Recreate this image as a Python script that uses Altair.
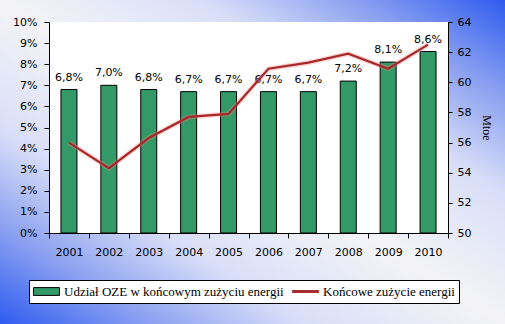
import altair as alt
import pandas as pd

years = ["2001", "2002", "2003", "2004", "2005", "2006", "2007", "2008", "2009", "2010"]
share_pct = [6.8, 7.0, 6.8, 6.7, 6.7, 6.7, 6.7, 7.2, 8.1, 8.6]
consumption_mtoe = [56.0, 54.3, 56.3, 57.7, 57.9, 60.9, 61.3, 61.9, 60.9, 62.5]
series_names = ["Udział OZE w końcowym zużyciu energii", "Końcowe zużycie energii"]
pct_ticks = [0, 1, 2, 3, 4, 5, 6, 7, 8, 9, 10]
mtoe_ticks = [50, 52, 54, 56, 58, 60, 62, 64]

GREEN = "#339966"
RED = "#a8282a"
W, H = 399, 211
PAD = {"left": 49, "top": 22, "right": 57, "bottom": 91}

df = pd.DataFrame({
    "year": years,
    "share": share_pct,
    "mtoe": consumption_mtoe,
    "label": [f"{v:.1f}%".replace(".", ",") for v in share_pct],
})
legend_df = pd.DataFrame({"series": series_names})

font = "DejaVu Sans"
serif = "Liberation Serif"

xenc = alt.X("year:N", sort=years, title=None,
             scale=alt.Scale(paddingInner=0, paddingOuter=0),
             axis=alt.Axis(tickBand="extent", labelAngle=0, labelFont=font, labelFontSize=11,
                           labelColor="black", domainColor="black", tickColor="black",
                           tickSize=5, labelPadding=8, zindex=1))

gradient = {
    "gradient": "linear", "x1": 0, "y1": 1, "x2": 1, "y2": 0,
    "stops": [
        {"offset": 0.0, "color": "#2f5cf0"},
        {"offset": 0.15, "color": "#8aa0f0"},
        {"offset": 0.3, "color": "#d8def8"},
        {"offset": 0.5, "color": "#f4f4f6"},
        {"offset": 0.7, "color": "#d8def8"},
        {"offset": 0.85, "color": "#8aa0f0"},
        {"offset": 1.0, "color": "#2f5cf0"},
    ],
}

bg = alt.Chart(legend_df).mark_rect(fill=gradient, clip=False).encode(
    x=alt.value(-PAD["left"]), x2=alt.value(W + PAD["right"]),
    y=alt.value(-PAD["top"]), y2=alt.value(H + PAD["bottom"]))
plotbg = alt.Chart(legend_df).mark_rect(fill="white").encode(
    x=alt.value(0), x2=alt.value(W), y=alt.value(0), y2=alt.value(H))

yleft = alt.Y("share:Q", title=None,
              scale=alt.Scale(domain=[0, 10], nice=False),
              axis=alt.Axis(values=pct_ticks, labelExpr="datum.value + '%'", grid=False,
                            labelFont=font, labelFontSize=11, labelColor="black",
                            domainColor="black", tickColor="black", tickSize=5,
                            labelPadding=7, orient="left", zindex=1))

bars = alt.Chart(df).mark_bar(width=16, color=GREEN, stroke="black", strokeWidth=1).encode(
    x=xenc, y=yleft)
labels = alt.Chart(df).mark_text(dy=-9, baseline="alphabetic", font=font, fontSize=11,
                                  color="black").encode(x=xenc, y=yleft, text="label:N")
left = alt.layer(bars, labels)

yright = alt.Y("mtoe:Q",
               scale=alt.Scale(domain=[50, 64], nice=False),
               axis=alt.Axis(values=mtoe_ticks, title="Mtoe", grid=False, orient="right",
                             labelFont=font, labelFontSize=11, labelColor="black",
                             titleFont=serif, titleFontSize=12,
                             titleFontWeight="normal", titleColor="black",
                             domainColor="black", tickColor="black", tickSize=4,
                             labelPadding=5, titlePadding=9, zindex=1))
glow = alt.Chart(df).mark_line(color="#f08a8a", strokeWidth=5, opacity=0.35).encode(
    x=xenc, y=yright)
line = alt.Chart(df).mark_line(color=RED, strokeWidth=2.2).encode(x=xenc, y=yright)
right = alt.layer(glow, line)

leg = alt.Legend(title=None, orient="none", legendX=-20, legendY=258, direction="horizontal",
                 fillColor="white", strokeColor="black", padding=4, clipHeight=15,
                 labelFont=serif, labelFontSize=13, labelColor="black",
                 symbolSize=676, symbolStrokeWidth=1, symbolOpacity=1,
                 columnPadding=8, labelOffset=4, labelLimit=400)
bar_sym = "M-1,-0.3L1,-0.3L1,0.3L-1,0.3Z"
line_sym = "M-1,-0.07L1,-0.07L1,0.07L-1,0.07Z"
legend_layer = alt.Chart(legend_df).mark_point(filled=True, opacity=0).encode(
    fill=alt.Fill("series:N", sort=series_names,
                  scale=alt.Scale(domain=series_names, range=[GREEN, RED]), legend=leg),
    stroke=alt.Stroke("series:N", sort=series_names,
                      scale=alt.Scale(domain=series_names, range=["black", RED]), legend=leg),
    shape=alt.Shape("series:N", sort=series_names,
                    scale=alt.Scale(domain=series_names, range=[bar_sym, line_sym]), legend=leg),
)

chart = alt.layer(bg, plotbg, left, right, legend_layer).resolve_scale(
    y="independent").properties(
    width=W, height=H, padding=PAD, autosize=alt.AutoSizeParams(type="none"),
    background="white"
).configure_view(stroke=None).configure_legend(
    labelFont=serif, labelFontSize=13, labelColor="black")

chart.save("out.html", embed_options={"renderer": "svg", "actions": False})
